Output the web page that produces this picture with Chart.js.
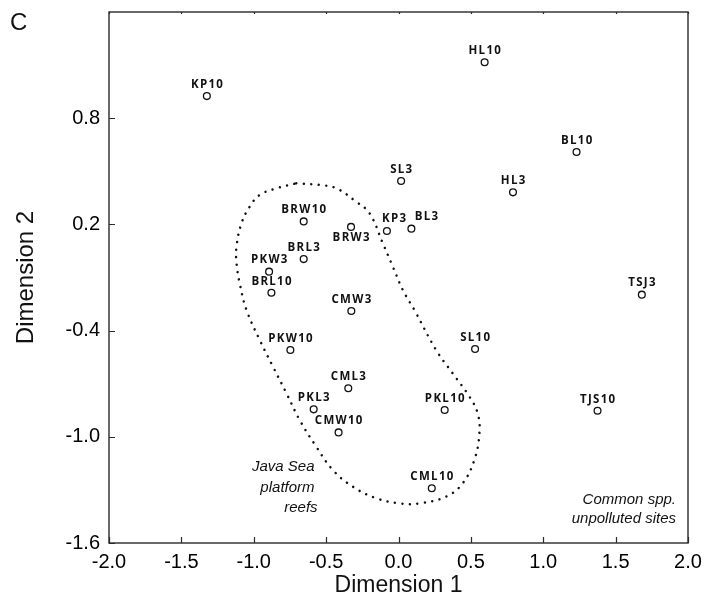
<!DOCTYPE html>
<html>
<head>
<meta charset="utf-8">
<script src="https://cdn.jsdelivr.net/npm/chart.js@4"></script>
<style>
  body { margin: 0; background: #fff; }
  #wrap { width: 704px; height: 602px; }
</style>
</head>
<body>
<div id="wrap"><canvas id="myChart"></canvas></div>
<script>
// MDS ordination, panel C
let sites = ['KP10', 'HL10', 'BL10', 'SL3', 'HL3', 'KP3', 'BL3', 'TSJ3', 'BRW10', 'BRW3', 'BRL3',
             'PKW3', 'BRL10', 'CMW3', 'PKW10', 'SL10', 'CML3', 'PKL3', 'PKL10', 'TJS10', 'CMW10', 'CML10'];
let dim1 = [-1.324, 0.595, 1.230, 0.018, 0.791, -0.080, 0.089, 1.681, -0.655, -0.328, -0.655,
            -0.894, -0.878, -0.326, -0.747, 0.529, -0.347, -0.586, 0.319, 1.375, -0.414, 0.230];
let dim2 = [0.925, 1.116, 0.609, 0.445, 0.381, 0.163, 0.176, -0.197, 0.217, 0.186, 0.004,
            -0.067, -0.186, -0.289, -0.510, -0.504, -0.726, -0.845, -0.849, -0.853, -0.975, -1.291];

// dotted outline round the Java Sea platform reef sites
let hullX = [-0.706, -0.545, -0.430, -0.292, -0.200, -0.108, -0.039, 0.030, 0.110, 0.260, 0.374, 0.490,
             0.547, 0.559, 0.524, 0.443, 0.329, 0.145, 0.007, -0.154, -0.315, -0.453, -0.568, -0.683,
             -0.774, -0.867, -0.959, -1.050, -1.097, -1.119, -1.119, -1.085, -1.028, -0.959, -0.843, -0.706];
let hullY = [0.432, 0.423, 0.404, 0.328, 0.263, 0.093, -0.039, -0.171, -0.284, -0.510, -0.641, -0.773,
             -0.867, -0.980, -1.131, -1.263, -1.338, -1.376, -1.376, -1.347, -1.282, -1.188, -1.056, -0.905,
             -0.754, -0.604, -0.453, -0.284, -0.133, -0.020, 0.074, 0.206, 0.300, 0.366, 0.404, 0.432];

let xTicks = [-2.0, -1.5, -1.0, -0.5, 0.0, 0.5, 1.0, 1.5, 2.0];
let yTicks = [-1.6, -1.0, -0.4, 0.2, 0.8];

let points = sites.map(function(s, i) { return { x: dim1[i], y: dim2[i] }; });
let hull = hullX.map(function(v, i) { return { x: v, y: hullY[i] }; });

function labelOffset(name) {
    if (name === 'BRW3') return [0, 11];
    if (name === 'KP3') return [7, -12];
    if (name === 'BL3') return [15, -12];
    return [0, -11.5];
}

// site names, frame, inward ticks and the two notes
let extras = {
    id: 'extras',
    afterDatasetsDraw(chart) {
        let ctx = chart.ctx;
        let area = chart.chartArea;
        let xs = chart.scales.x;
        let ys = chart.scales.y;

        ctx.save();
        ctx.strokeStyle = '#2a2a2a';
        ctx.lineWidth = 1.4;
        ctx.strokeRect(area.left, area.top, area.right - area.left, area.bottom - area.top);

        ctx.lineWidth = 1.2;
        ctx.beginPath();
        xTicks.forEach(function(v) {
            let px = Math.round(xs.getPixelForValue(v)) + 0.5;
            ctx.moveTo(px, area.bottom);
            ctx.lineTo(px, area.bottom - 6);
            ctx.moveTo(px, area.top);
            ctx.lineTo(px, area.top + 2);
        });
        yTicks.forEach(function(v) {
            let py = Math.round(ys.getPixelForValue(v)) + 0.5;
            ctx.moveTo(area.left, py);
            ctx.lineTo(area.left + 6, py);
        });
        ctx.stroke();

        // point names
        let meta = chart.getDatasetMeta(1);
        ctx.fillStyle = '#111';
        ctx.font = 'bold 11.5px "Open Sans"';
        ctx.letterSpacing = '1.3px';
        ctx.textAlign = 'center';
        ctx.textBaseline = 'middle';
        meta.data.forEach(function(pt, i) {
            let off = labelOffset(sites[i]);
            ctx.fillText(sites[i], pt.x + off[0] + 0.7, pt.y + off[1]);
        });
        ctx.letterSpacing = '0px';

        // notes
        ctx.font = 'italic 15px "Liberation Sans"';
        ctx.textAlign = 'right';
        let jx = xs.getPixelForValue(-0.58);
        let jy = ys.getPixelForValue(-1.17);
        ctx.fillText('Java Sea', jx, jy);
        ctx.fillText('platform', jx, jy + 20.5);
        ctx.fillText('reefs', jx + 3, jy + 41);

        let cx = xs.getPixelForValue(1.917);
        let cy = ys.getPixelForValue(-1.357);
        ctx.fillText('Common spp.', cx, cy);
        ctx.fillText('unpolluted sites', cx, cy + 18.5);

        // panel letter
        ctx.textAlign = 'left';
        ctx.textBaseline = 'alphabetic';
        ctx.font = '24px "Liberation Sans"';
        ctx.fillText('C', 10, 30);
        ctx.restore();
    }
};

let ctx = document.getElementById('myChart').getContext('2d');
let chart = new Chart(ctx, {
    type: 'scatter',
    data: {
        datasets: [
            {
                label: 'Java Sea platform reefs',
                data: hull,
                showLine: true,
                tension: 0.4,
                borderColor: '#111',
                borderWidth: 2.5,
                borderDash: [0.01, 7.5],
                borderCapStyle: 'round',
                pointRadius: 0,
                fill: false
            },
            {
                label: 'Sites',
                data: points,
                pointRadius: 3.4,
                pointBorderWidth: 1.3,
                pointBorderColor: '#111',
                pointBackgroundColor: '#fff'
            }
        ]
    },
    options: {
        responsive: true,
        maintainAspectRatio: false,
        animation: false,
        layout: { padding: { top: 12, right: 16, left: 0, bottom: 0 } },
        plugins: {
            legend: { display: false },
            tooltip: { enabled: false }
        },
        scales: {
            x: {
                type: 'linear',
                min: -2,
                max: 2,
                afterBuildTicks: function(scale) {
                    scale.ticks = xTicks.map(function(v) { return { value: v }; });
                },
                afterFit: function(scale) {
                    scale.height = 59;
                    scale.paddingLeft = 0;
                    scale.paddingRight = 0;
                },
                grid: { display: false, drawTicks: false },
                border: { display: false },
                ticks: {
                    padding: 7,
                    color: '#000',
                    font: { family: 'Liberation Sans', size: 20 },
                    callback: function(v) { return v.toFixed(1); }
                },
                title: {
                    display: true,
                    text: 'Dimension 1',
                    color: '#111',
                    font: { family: 'Liberation Sans', size: 23 },
                    padding: { top: 0, bottom: 3 }
                }
            },
            y: {
                type: 'linear',
                min: -1.6,
                max: 1.4,
                afterBuildTicks: function(scale) {
                    scale.ticks = yTicks.map(function(v) { return { value: v }; });
                },
                afterFit: function(scale) {
                    scale.width = 109;
                    scale.paddingTop = 0;
                    scale.paddingBottom = 0;
                },
                grid: { display: false, drawTicks: false },
                border: { display: false },
                ticks: {
                    padding: 9,
                    color: '#000',
                    font: { family: 'Liberation Sans', size: 20 },
                    callback: function(v) { return v.toFixed(1); }
                },
                title: {
                    display: true,
                    text: 'Dimension 2',
                    color: '#111',
                    font: { family: 'Liberation Sans', size: 24 },
                    padding: { top: 12, bottom: 0 }
                }
            }
        }
    },
    plugins: [extras]
});
</script>
</body>
</html>
